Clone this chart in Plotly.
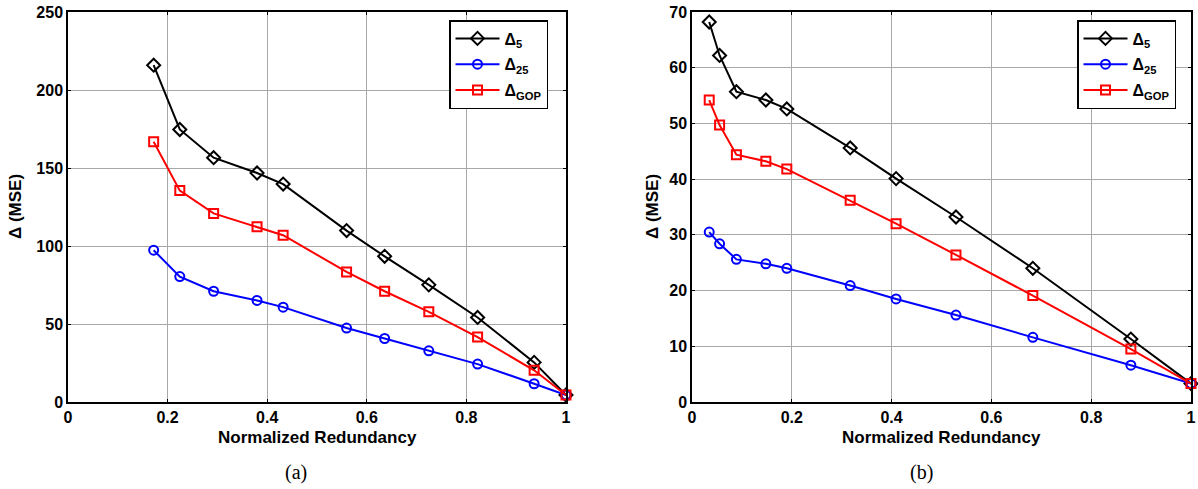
import plotly.graph_objects as go

# Panel (a)
red_a = [0.172, 0.2245, 0.2924, 0.3796, 0.432, 0.5594, 0.6358, 0.7245, 0.8225, 0.936, 1.0]
d5_a = [215.9, 174.7, 156.6, 146.8, 139.7, 109.9, 93.4, 75.1, 54.2, 25.4, 4.5]
d25_a = [97.3, 80.4, 71.0, 65.1, 60.8, 47.4, 40.7, 32.8, 24.3, 11.7, 4.5]
dgop_a = [166.8, 135.5, 120.9, 112.4, 106.9, 83.4, 71.0, 57.8, 41.6, 20.3, 4.5]

# Panel (b)
red_b = [0.0345, 0.0553, 0.089, 0.148, 0.190, 0.317, 0.409, 0.529, 0.683, 0.8795, 1.0]
d5_b = [68.2, 62.2, 55.7, 54.2, 52.6, 45.6, 40.1, 33.2, 24.0, 11.3, 3.3]
d25_b = [30.5, 28.4, 25.6, 24.8, 24.0, 20.9, 18.5, 15.6, 11.6, 6.6, 3.3]
dgop_b = [54.2, 49.7, 44.4, 43.2, 41.8, 36.2, 32.0, 26.4, 19.1, 9.5, 3.3]

series_names = ["Δ<sub>5</sub>", "Δ<sub>25</sub>", "Δ<sub>GOP</sub>"]
x_ticks = [0, 0.2, 0.4, 0.6, 0.8, 1]
x_tick_text = ["0", "0.2", "0.4", "0.6", "0.8", "1"]
y_ticks_a = [0, 50, 100, 150, 200, 250]
y_ticks_b = [0, 10, 20, 30, 40, 50, 60, 70]

W, H = 1198, 489
# plot-area edges in pixels
A_L, A_R = 68, 566
B_L, B_R = 692, 1191
TOP, BOT = 12, 402

styles = [
    dict(color="black", symbol="diamond-open", size=10),
    dict(color="#0000ff", symbol="circle-open", size=9),
    dict(color="#ff0000", symbol="square-open", size=9),
]

fig = go.Figure()


def add_panel(xv, ys, xa, ya, legend):
    for i, (name, yv, st) in enumerate(zip(series_names, ys, styles)):
        fig.add_trace(go.Scatter(
            x=xv, y=yv, mode="lines+markers", name=name,
            line=dict(color=st["color"], width=2),
            marker=dict(symbol=st["symbol"], size=st["size"], color=st["color"],
                        line=dict(width=2, color=st["color"])),
            xaxis=xa, yaxis=ya, legend=legend, legendgroup=f"{legend}-{i}",
            cliponaxis=False,
        ))


add_panel(red_a, [d5_a, d25_a, dgop_a], "x", "y", "legend")
add_panel(red_b, [d5_b, d25_b, dgop_b], "x2", "y2", "legend2")

SANS = "Liberation Sans, Arial"
tick_font = dict(family=SANS, size=16, color="black", weight="bold")
title_font = dict(family=SANS, size=17, color="black", weight="bold")
axis_common = dict(
    showline=True, linecolor="black", linewidth=1.5, mirror="ticks",
    ticks="inside", ticklen=3, tickcolor="black",
    showgrid=True, gridcolor="#a8a8a8", gridwidth=1,
    zeroline=False, tickfont=tick_font, automargin=False,
)

y_top = 1 - TOP / H
y_bot = 1 - BOT / H


def px_x(p):
    return p / W


def px_y(p):
    return 1 - p / H


legend_common = dict(
    xanchor="left", yanchor="top", bordercolor="black", borderwidth=1.5, bgcolor="white",
    font=dict(family=SANS, size=16, color="black", weight="bold"),
    tracegroupgap=2, itemwidth=44,
)

annotations = []
for name, cx in (("(a)", 296), ("(b)", 921)):
    annotations.append(dict(text=name, x=px_x(cx), y=px_y(472), xref="paper", yref="paper",
                            xanchor="center", yanchor="middle", showarrow=False,
                            font=dict(family="Liberation Serif, Times New Roman", size=20, color="black")))
for cx in ((A_L + A_R) / 2, (B_L + B_R) / 2):
    annotations.append(dict(text="Normalized Redundancy", x=px_x(cx), y=px_y(437), xref="paper", yref="paper",
                            xanchor="center", yanchor="middle", showarrow=False, font=title_font))
for cx in (15, 652):
    annotations.append(dict(text="Δ (MSE)", x=px_x(cx), y=px_y((TOP + BOT) / 2), xref="paper", yref="paper",
                            xanchor="center", yanchor="middle", showarrow=False, textangle=-90,
                            font=title_font))

fig.update_layout(
    width=W, height=H, margin=dict(l=0, r=0, t=0, b=0),
    paper_bgcolor="white", plot_bgcolor="white",
    xaxis=dict(domain=[px_x(A_L), px_x(A_R)], range=[0, 1], tickvals=x_ticks, ticktext=x_tick_text,
               anchor="y", **axis_common),
    yaxis=dict(domain=[y_bot, y_top], range=[0, 250], tickvals=y_ticks_a, anchor="x", **axis_common),
    xaxis2=dict(domain=[px_x(B_L), px_x(B_R)], range=[0, 1], tickvals=x_ticks, ticktext=x_tick_text,
                anchor="y2", **axis_common),
    yaxis2=dict(domain=[y_bot, y_top], range=[0, 70], tickvals=y_ticks_b, anchor="x2", **axis_common),
    legend=dict(x=px_x(449), y=px_y(20), **legend_common),
    legend2=dict(x=px_x(1077), y=px_y(20), **legend_common),
    showlegend=True,
    annotations=annotations,
)

fig.write_html("out.html")
